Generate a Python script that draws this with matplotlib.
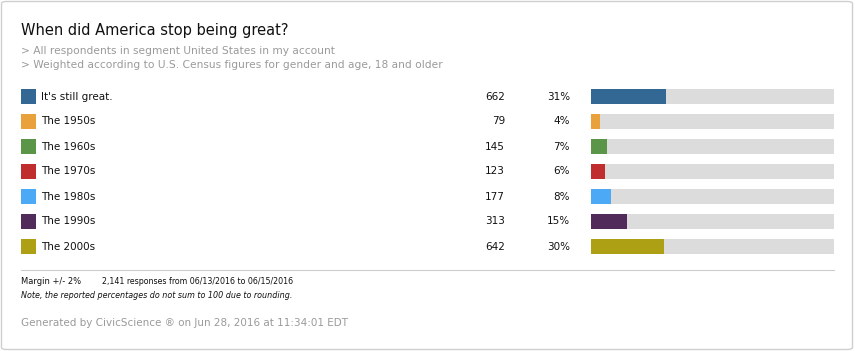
import matplotlib
matplotlib.use("Agg")
import matplotlib.pyplot as plt
from matplotlib.patches import FancyBboxPatch
from matplotlib.transforms import blended_transform_factory

categories = ["It's still great.", "The 1950s", "The 1960s", "The 1970s",
              "The 1980s", "The 1990s", "The 2000s"]
counts = [662, 79, 145, 123, 177, 313, 642]
percents = [31, 4, 7, 6, 8, 15, 30]
colors = ["#336794", "#E9A23B", "#5B9547", "#BF2D2F", "#4BA9F5", "#512B5A", "#AEA015"]
total = 2141

title = "When did America stop being great?"
subtitles = ["> All respondents in segment United States in my account",
             "> Weighted according to U.S. Census figures for gender and age, 18 and older"]
margin_text = "Margin +/- 2%"
responses_text = "2,141 responses from 06/13/2016 to 06/15/2016"
note_text = "Note, the reported percentages do not sum to 100 due to rounding."
generated_text = "Generated by CivicScience \u00ae on Jun 28, 2016 at 11:34:01 EDT"

W, H = 855, 351
fig = plt.figure(figsize=(W / 100, H / 100), dpi=100)
fig.patch.set_facecolor("white")

def fx(px):
    return px / W

def fy(py):
    return 1 - py / H

# border
border = FancyBboxPatch((fx(1.5), fy(349.5)), fx(851), 348 / H,
                        boxstyle="round,pad=0,rounding_size=0.006",
                        transform=fig.transFigure, facecolor="none",
                        edgecolor="#cfcfcf", linewidth=1.0, zorder=-1)
fig.patches.append(border)

# rows area: 7 rows, 25px each, starting at y=84
n = len(categories)
row_top, row_h = 84, 25
ax_bottom = fy(row_top + n * row_h)
ax_height = n * row_h / H

# bar axes
bax = fig.add_axes([fx(591), ax_bottom, fx(834 - 591), ax_height])
ypos = list(range(n))
bax.barh(ypos, [1.0] * n, height=0.6, color="#dcdcdc", left=0)
bax.barh(ypos, [c / total for c in counts], height=0.6, color=colors, left=0)
bax.set_xlim(0, 1)
bax.set_ylim(n - 0.5, -0.5)
bax.axis("off")

# swatch axes
sax = fig.add_axes([fx(21), ax_bottom, fx(15), ax_height])
sax.barh(ypos, [1.0] * n, height=0.6, color=colors, left=0)
sax.set_xlim(0, 1)
sax.set_ylim(n - 0.5, -0.5)
sax.axis("off")

tr = blended_transform_factory(fig.transFigure, bax.transData)
fs = 7.5
for i, (cat, cnt, pct) in enumerate(zip(categories, counts, percents)):
    bax.text(fx(41), i, cat, transform=tr, ha="left", va="center",
             fontsize=fs, color="#111111", clip_on=False)
    bax.text(fx(505), i, f"{cnt}", transform=tr, ha="right", va="center",
             fontsize=fs, color="#111111", clip_on=False)
    bax.text(fx(570), i, f"{pct}%", transform=tr, ha="right", va="center",
             fontsize=fs, color="#111111", clip_on=False)

# title and subtitles
fig.text(fx(21), fy(31), title, ha="left", va="center", fontsize=10.5, color="#111111")
fig.text(fx(21), fy(51), subtitles[0], ha="left", va="center", fontsize=7.7, color="#9a9a9a")
fig.text(fx(21), fy(65), subtitles[1], ha="left", va="center", fontsize=7.7, color="#9a9a9a")

# divider
fig.add_artist(plt.Line2D([fx(21), fx(834)], [fy(270), fy(270)],
                          transform=fig.transFigure, color="#cccccc", linewidth=0.8))

fig.text(fx(21), fy(281), margin_text, ha="left", va="center", fontsize=6.0,
         color="#111111")
fig.text(fx(102), fy(281), responses_text, ha="left", va="center", fontsize=6.3,
         color="#111111", fontstretch="condensed")
fig.text(fx(21), fy(295), note_text, ha="left", va="center", fontsize=6.4,
         color="#111111", style="italic", fontstretch="condensed")
fig.text(fx(21), fy(323), generated_text, ha="left", va="center", fontsize=7.5,
         color="#9a9a9a")

fig.savefig("out.png", dpi=100, facecolor="white")
